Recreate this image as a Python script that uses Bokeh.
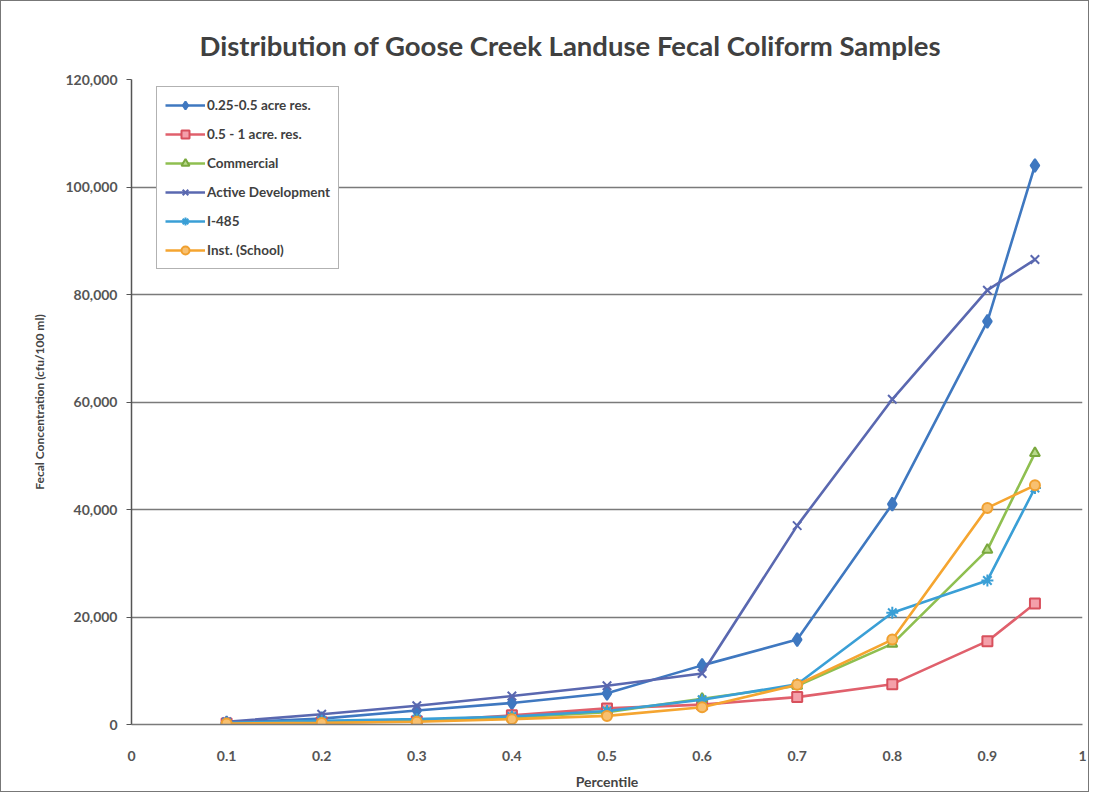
from bokeh.plotting import figure
from bokeh.models import Range1d, FixedTicker, NumeralTickFormatter, Legend, LegendItem
from bokeh.embed import file_html
from bokeh.resources import INLINE

# ---- data ----
percentile = [0.1, 0.2, 0.3, 0.4, 0.5, 0.6, 0.7, 0.8, 0.9, 0.95]
res_025_05 = [300, 1100, 2600, 4000, 5800, 11000, 15800, 41000, 75000, 104000]
res_05_1 = [200, 400, 600, 1700, 3000, 3700, 5100, 7500, 15500, 22500]
commercial = [250, 500, 800, 1300, 2300, 4800, 7200, 15000, 32500, 50500]
active_dev = [500, 1900, 3500, 5300, 7200, 9500, 37000, 60500, 80800, 86500]
i485 = [300, 700, 1000, 1500, 2500, 4600, 7500, 20800, 26800, 44000]
school = [200, 300, 500, 1000, 1600, 3200, 7400, 15800, 40300, 44500]

series_names = ["0.25-0.5 acre res.", "0.5 - 1 acre. res.", "Commercial",
                "Active Development", "I-485", "Inst. (School)"]
x_ticks = [0, 0.1, 0.2, 0.3, 0.4, 0.5, 0.6, 0.7, 0.8, 0.9, 1]
x_tick_labels = ["0", "0.1", "0.2", "0.3", "0.4", "0.5", "0.6", "0.7", "0.8", "0.9", "1"]
y_ticks = [0, 20000, 40000, 60000, 80000, 100000, 120000]

FONT = "Lato"

p = figure(width=1089, height=792, x_range=Range1d(0, 1), y_range=Range1d(0, 120000),
           output_backend="svg", toolbar_location=None,
           min_border_left=130, min_border_right=8, min_border_top=78, min_border_bottom=69)
p.styles = {"border": "1.5px solid #777", "box-sizing": "border-box"}

p.title.text = "Distribution of Goose Creek Landuse Fecal Coliform Samples"
p.title.text_font = FONT
p.title.text_font_size = "27.5px"
p.title.text_font_style = "bold"
p.title.text_color = "#404040"
p.title.align = "left"
p.title.offset = 68
p.title.standoff = 36

p.outline_line_color = None
p.xgrid.grid_line_color = None
p.ygrid.grid_line_color = "#7a7a7a"
p.ygrid.grid_line_width = 1.5
p.ygrid.ticker = FixedTicker(ticks=y_ticks)

p.xaxis.ticker = FixedTicker(ticks=x_ticks)
p.xaxis.major_label_overrides = {t: l for t, l in zip(x_ticks, x_tick_labels)}
p.xaxis.axis_line_color = "#7a7a7a"
p.xaxis.axis_line_width = 1.5
p.xaxis.major_tick_line_color = None
p.xaxis.minor_tick_line_color = None
p.xaxis.major_label_standoff = 20
p.xaxis.axis_label = "Percentile"
p.xaxis.axis_label_standoff = 9

p.yaxis.ticker = FixedTicker(ticks=y_ticks)
p.yaxis.formatter = NumeralTickFormatter(format="0,0")
p.yaxis.axis_line_color = "#555555"
p.yaxis.axis_line_width = 1.5
p.yaxis.major_tick_line_color = "#555555"
p.yaxis.major_tick_out = 5
p.yaxis.major_tick_in = 0
p.yaxis.minor_tick_line_color = None
p.yaxis.major_label_standoff = 9
p.yaxis.axis_label = "Fecal Concentration (cfu/100 ml)"
p.yaxis.axis_label_standoff = 16

for ax in (p.xaxis, p.yaxis):
    ax.major_label_text_font = FONT
    ax.major_label_text_font_size = "14px"
    ax.major_label_text_color = "#555555"
    ax.major_label_text_font_style = "bold"
    ax.axis_label_text_font = FONT
    ax.axis_label_text_font_style = "bold"
    ax.axis_label_text_color = "#444444"
p.xaxis.axis_label_text_font_size = "14px"
p.yaxis.axis_label_text_font_size = "12px"

styles = [
    (res_025_05, "#3f78c0", "diamond", "#3f78c0", "#3f78c0", 13),
    (res_05_1, "#e0606c", "square", "#f4a0aa", "#d8505c", 10),
    (commercial, "#8fbf50", "triangle", "#b8d98a", "#7aa83e", 10),
    (active_dev, "#5a68b0", "x", "#5a68b0", "#5a68b0", 12),
    (i485, "#3a9fd6", "asterisk", "#3a9fd6", "#3a9fd6", 12),
    (school, "#f5a530", "circle", "#f8c070", "#f0a030", 10),
]

items = []
for name, (vals, lc, mk, fc, mc, sz) in zip(series_names, styles):
    r1 = p.line(percentile, vals, line_color=lc, line_width=2.6)
    r2 = p.scatter(percentile, vals, marker=mk, size=sz, fill_color=fc,
                   line_color=mc, line_width=2)
    items.append(LegendItem(label=name, renderers=[r1, r2]))

legend = Legend(items=items, location=(25, 455))
legend.label_text_font = FONT
legend.label_text_font_size = "13.5px"
legend.label_text_color = "#404040"
legend.label_text_font_style = "bold"
legend.glyph_width = 40
legend.glyph_height = 20
legend.label_height = 20
legend.spacing = 9
legend.padding = 8
legend.label_standoff = 2
legend.border_line_color = "#666666"
legend.border_line_width = 1.2
legend.background_fill_alpha = 1
p.add_layout(legend)

open("out.html", "w").write(file_html(p, INLINE))
